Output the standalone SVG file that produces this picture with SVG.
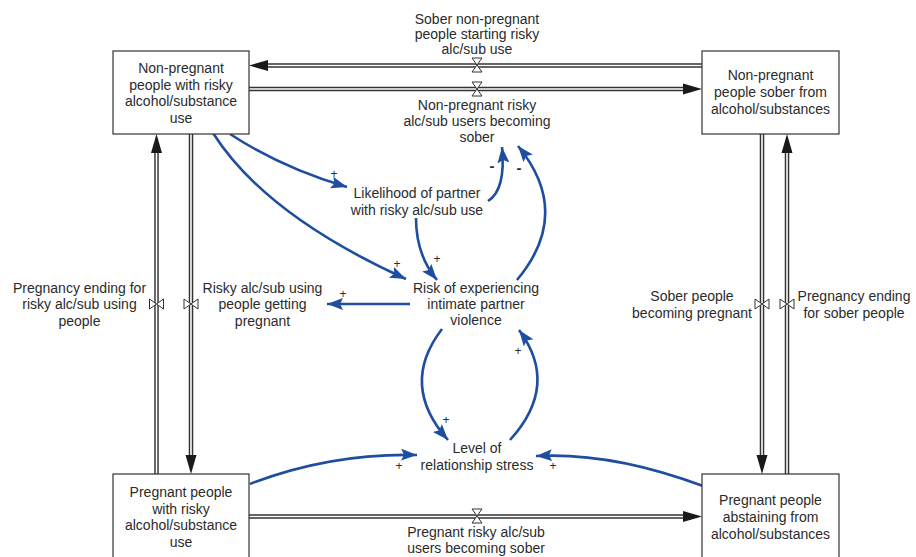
<svg xmlns="http://www.w3.org/2000/svg" xmlns:xlink="http://www.w3.org/1999/xlink" width="916" height="557" viewBox="0 0 916 557">
<style>
text{font-family:"Liberation Sans",Arial,sans-serif;font-size:14px;fill:#2b2b2b;text-anchor:middle}
.box{fill:#fff;stroke:#333;stroke-width:1.2}
.po{stroke:#333;stroke-width:4.5;fill:none}
.pi{stroke:#fff;stroke-width:1.6;fill:none}
.valve{fill:#fff;stroke:#333;stroke-width:1}
.link{fill:none;stroke:#1f4ea1;stroke-width:2.6;marker-end:url(#ba)}
.pol{font-size:12px}
.neg{font-size:15px;font-weight:bold}
</style>
<defs>
<marker id="ba" markerUnits="userSpaceOnUse" markerWidth="20" markerHeight="14" refX="16" refY="6" orient="auto">
<path d="M0,0 L16,6 L0,12 L3,6 z" fill="#1f4ea1"/>
</marker>
<path id="pa" d="M0,0 L-19,-5.5 L-19,5.5 z" fill="#1a1a1a"/>
<path id="vh" d="M-5,-7 L5,-7 L-5,7 L5,7 z" class="valve"/>
<path id="vv" d="M-7,-5 L-7,5 L7,-5 L7,5 z" class="valve"/>
</defs>

<g id="pipes">
<line class="po" x1="702" y1="65.5" x2="266" y2="65.5"/><line class="pi" x1="702" y1="65.5" x2="266" y2="65.5"/>
<use xlink:href="#pa" transform="translate(249,65.5) rotate(180)"/>
<line class="po" x1="249" y1="89" x2="685" y2="89"/><line class="pi" x1="249" y1="89" x2="685" y2="89"/>
<use xlink:href="#pa" transform="translate(702,89)"/>
<line class="po" x1="156.5" y1="474" x2="151" y2="474" style="display:none"/>
<line class="po" x1="156.5" y1="474" x2="156.5" y2="151"/><line class="pi" x1="156.5" y1="474" x2="156.5" y2="151"/>
<use xlink:href="#pa" transform="translate(156.5,134) rotate(-90)"/>
<line class="po" x1="191" y1="134" x2="191" y2="457"/><line class="pi" x1="191" y1="134" x2="191" y2="457"/>
<use xlink:href="#pa" transform="translate(191,474) rotate(90)"/>
<line class="po" x1="762" y1="134" x2="762" y2="457"/><line class="pi" x1="762" y1="134" x2="762" y2="457"/>
<use xlink:href="#pa" transform="translate(762,474) rotate(90)"/>
<line class="po" x1="787" y1="474" x2="787" y2="151"/><line class="pi" x1="787" y1="474" x2="787" y2="151"/>
<use xlink:href="#pa" transform="translate(787,134) rotate(-90)"/>
<line class="po" x1="249" y1="516.5" x2="685" y2="516.5"/><line class="pi" x1="249" y1="516.5" x2="685" y2="516.5"/>
<use xlink:href="#pa" transform="translate(702,516.5)"/>
<use xlink:href="#vh" transform="translate(477,65)"/>
<use xlink:href="#vh" transform="translate(477,89)"/>
<use xlink:href="#vh" transform="translate(477,516)"/>
<use xlink:href="#vv" transform="translate(156.5,304)"/>
<use xlink:href="#vv" transform="translate(191,304)"/>
<use xlink:href="#vv" transform="translate(762,304)"/>
<use xlink:href="#vv" transform="translate(787,304)"/>
</g>

<g id="connectors">
<path class="link" d="M230,134 Q282,168 347,187"/>
<path class="link" d="M213,133 Q265,215 406,279"/>
<path class="link" d="M416,218 Q416,255 437,280"/>
<path class="link" d="M488,201 Q506,190 502,147"/>
<path class="link" d="M517,280 Q573,213 518,146"/>
<path class="link" d="M410,304 L327,304"/>
<path class="link" d="M442,329 Q399,385 448,440"/>
<path class="link" d="M510,440 Q560,385 519,330"/>
<path class="link" d="M250,484 Q330,453 417,455"/>
<path class="link" d="M703,486 Q612,452 536,456"/>
</g>

<g id="polarities">
<text class="pol" x="334" y="178">+</text>
<text class="pol" x="397" y="268">+</text>
<text class="pol" x="437" y="263">+</text>
<text class="neg" x="492" y="171">-</text>
<text class="neg" x="519" y="173">-</text>
<text class="pol" x="343" y="298">+</text>
<text class="pol" x="446" y="424">+</text>
<text class="pol" x="518" y="355">+</text>
<text class="pol" x="399" y="470">+</text>
<text class="pol" x="553" y="470">+</text>
</g>

<g id="stock-np-risky">
<rect class="box" x="113" y="51" width="136" height="83"/>
<text x="181" y="73">Non-pregnant</text>
<text x="181" y="89.5">people with risky</text>
<text x="181" y="106">alcohol/substance</text>
<text x="181" y="122.5">use</text>
</g>
<g id="stock-np-sober">
<rect class="box" x="702" y="51" width="137" height="83"/>
<text x="770.5" y="80">Non-pregnant</text>
<text x="770.5" y="97">people sober from</text>
<text x="770.5" y="114">alcohol/substances</text>
</g>
<g id="stock-p-risky">
<rect class="box" x="113" y="474" width="136" height="100"/>
<text x="181" y="497">Pregnant people</text>
<text x="181" y="513.5">with risky</text>
<text x="181" y="530">alcohol/substance</text>
<text x="181" y="546.5">use</text>
</g>
<g id="stock-p-sober">
<rect class="box" x="702" y="474" width="137" height="100"/>
<text x="770.5" y="505">Pregnant people</text>
<text x="770.5" y="522">abstaining from</text>
<text x="770.5" y="538.5">alcohol/substances</text>
</g>

<g id="flow-sober-start">
<text x="477" y="24">Sober non-pregnant</text>
<text x="477" y="39">people starting risky</text>
<text x="477" y="54">alc/sub use</text>
</g>
<g id="flow-np-becoming-sober">
<text x="477" y="110">Non-pregnant risky</text>
<text x="477" y="126">alc/sub users becoming</text>
<text x="477" y="142">sober</text>
</g>
<g id="flow-preg-end-risky">
<text x="79.5" y="293">Pregnancy ending for</text>
<text x="79.5" y="309">risky alc/sub using</text>
<text x="79.5" y="326">people</text>
</g>
<g id="flow-risky-preg">
<text x="262.5" y="293">Risky alc/sub using</text>
<text x="262.5" y="309">people getting</text>
<text x="262.5" y="326">pregnant</text>
</g>
<g id="flow-sober-preg">
<text x="692" y="301">Sober people</text>
<text x="692" y="318">becoming pregnant</text>
</g>
<g id="flow-preg-end-sober">
<text x="854" y="301">Pregnancy ending</text>
<text x="854" y="318">for sober people</text>
</g>
<g id="flow-p-becoming-sober">
<text x="476" y="537">Pregnant risky alc/sub</text>
<text x="476" y="553">users becoming sober</text>
</g>

<g id="aux-likelihood">
<text x="417" y="198">Likelihood of partner</text>
<text x="417" y="215">with risky alc/sub use</text>
</g>
<g id="aux-risk-ipv">
<text x="476" y="293">Risk of experiencing</text>
<text x="476" y="309">intimate partner</text>
<text x="476" y="325">violence</text>
</g>
<g id="aux-stress">
<text x="477" y="453">Level of</text>
<text x="477" y="470">relationship stress</text>
</g>
</svg>
